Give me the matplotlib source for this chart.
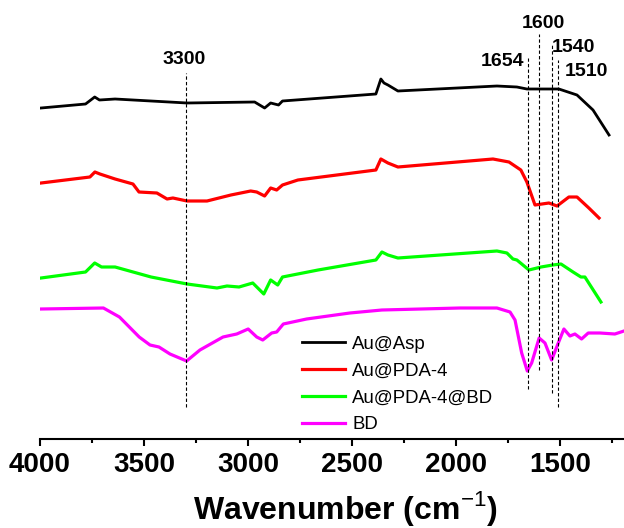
import matplotlib
matplotlib.use("Agg")
import matplotlib.pyplot as plt

plt.rcParams['font.family'] = ['Liberation Sans', 'DejaVu Sans']
plt.rcParams['mathtext.fontset'] = 'custom'
plt.rcParams['mathtext.rm'] = 'Liberation Sans'
plt.rcParams['mathtext.bf'] = 'Liberation Sans:bold'

# spectra (wavenumber, offset intensity in a.u.)
asp_wn = [3995, 3781, 3737, 3714, 3639, 3293, 2968, 2920, 2891, 2853, 2834,
          2385, 2361, 2346, 2327, 2279, 1803, 1707, 1659, 1505, 1418, 1341, 1264]
asp_y = [331, 335, 342, 339, 340, 336, 337, 331, 336, 334, 338,
         345, 360, 356, 354, 348, 353, 352, 350, 350, 344, 329, 304]

pda_wn = [3995, 3760, 3736, 3712, 3639, 3553, 3524, 3438, 3389, 3361, 3293, 3197,
          3082, 2987, 2958, 2920, 2891, 2862, 2834, 2760, 2385, 2361, 2327, 2279,
          1822, 1745, 1688, 1659, 1620, 1553, 1514, 1457, 1418, 1361, 1312]
pda_y = [256, 262, 267, 265, 260, 255, 247, 246, 240, 241, 238, 238,
         244, 248, 247, 243, 251, 249, 254, 259, 269, 280, 276, 272,
         280, 277, 269, 257, 234, 236, 233, 242, 242, 231, 221]

bd_comp_wn = [3995, 3781, 3737, 3704, 3639, 3466, 3293, 3149, 3101, 3043, 2977,
              2924, 2891, 2857, 2834, 2663, 2385, 2356, 2327, 2279, 1803, 1755,
              1726, 1707, 1649, 1591, 1534, 1495, 1437, 1399, 1380, 1303]
bd_comp_y = [161, 167, 176, 172, 172, 162, 155, 151, 153, 152, 156,
             145, 159, 154, 162, 169, 179, 187, 184, 181, 188, 186,
             180, 179, 169, 172, 174, 175, 167, 162, 162, 137]

bd_wn = [3995, 3695, 3618, 3523, 3471, 3428, 3375, 3295, 3231, 3120, 3054, 2999,
         2958, 2929, 2886, 2862, 2830, 2718, 2510, 2356, 1981, 1803, 1740, 1716,
         1684, 1657, 1636, 1600, 1572, 1540, 1508, 1481, 1452, 1428, 1396, 1364,
         1308, 1236, 1192]
bd_y = [130, 131, 122, 102, 94, 92, 85, 78, 89, 102, 105, 110,
        102, 99, 106, 107, 115, 120, 126, 129, 131, 131, 127, 119,
        86, 68, 76, 101, 96, 79, 96, 110, 103, 105, 100, 106,
        106, 105, 108]

names = ['Au@Asp', 'Au@PDA-4', 'Au@PDA-4@BD', 'BD']
colors = ['black', '#ff0000', '#00ff00', '#ff00ff']

# marked bands: position, dashed line extent, label position
band_wn = [3300, 1654, 1600, 1540, 1510]
band_lo = [32, 50, 69, 46, 32]
band_hi = [366, 381, 405, 394, 379]
band_label = ['3300', '1654', '1600', '1540', '1510']
label_wn = [3308, 1774, 1582, 1433, 1375]
label_y = [379, 378, 415, 391, 367]

fig = plt.figure(figsize=(6.24, 5.28), dpi=100)
ax = fig.add_axes([40 / 624, 89 / 528, 584 / 624, 439 / 528])

series = [(asp_wn, asp_y), (pda_wn, pda_y), (bd_comp_wn, bd_comp_y), (bd_wn, bd_y)]
for (wn, y), name, c in zip(series, names, colors):
    lw = 2.0 if c == 'black' else 2.3
    ax.plot(wn, y, color=c, lw=lw, label=name)

for wn, lo, hi in zip(band_wn, band_lo, band_hi):
    ax.plot([wn, wn], [lo, hi], color='black', lw=0.8, ls=(0, (3, 2)))
for t, wn, y in zip(band_label, label_wn, label_y):
    ax.text(wn, y, t, ha='center', va='center', fontsize=14, fontweight='bold')

ax.set_xlim(4000, 1192)
ax.set_ylim(0, 439)
ax.set_xticks([4000, 3500, 3000, 2500, 2000, 1500])
ax.set_xticks([3750, 3250, 2750, 2250, 1750, 1250], minor=True)
ax.set_yticks([])
for s in ['left', 'top', 'right']:
    ax.spines[s].set_visible(False)
ax.spines['bottom'].set_linewidth(1.5)
ax.tick_params(axis='x', which='major', direction='out', length=5, width=1.5,
               labelsize=20, pad=4)
ax.tick_params(axis='x', which='minor', direction='out', length=3, width=1.5)
for lab in ax.get_xticklabels():
    lab.set_fontweight('bold')

ax.set_xlabel(r'Wavenumber (cm$^{-1}$)', fontsize=23, fontweight='bold')
ax.xaxis.label.set_va('center')
ax.xaxis.set_label_coords(0.522, -69 / 439)

ax.legend(loc='center left', bbox_to_anchor=(302 / 624, 1 - 384.5 / 528),
          bbox_transform=fig.transFigure, frameon=False, fontsize=13.4,
          handlelength=2.3, handletextpad=0.4, labelspacing=0.52,
          borderpad=0, borderaxespad=0)

fig.savefig('out.png', dpi=100)
